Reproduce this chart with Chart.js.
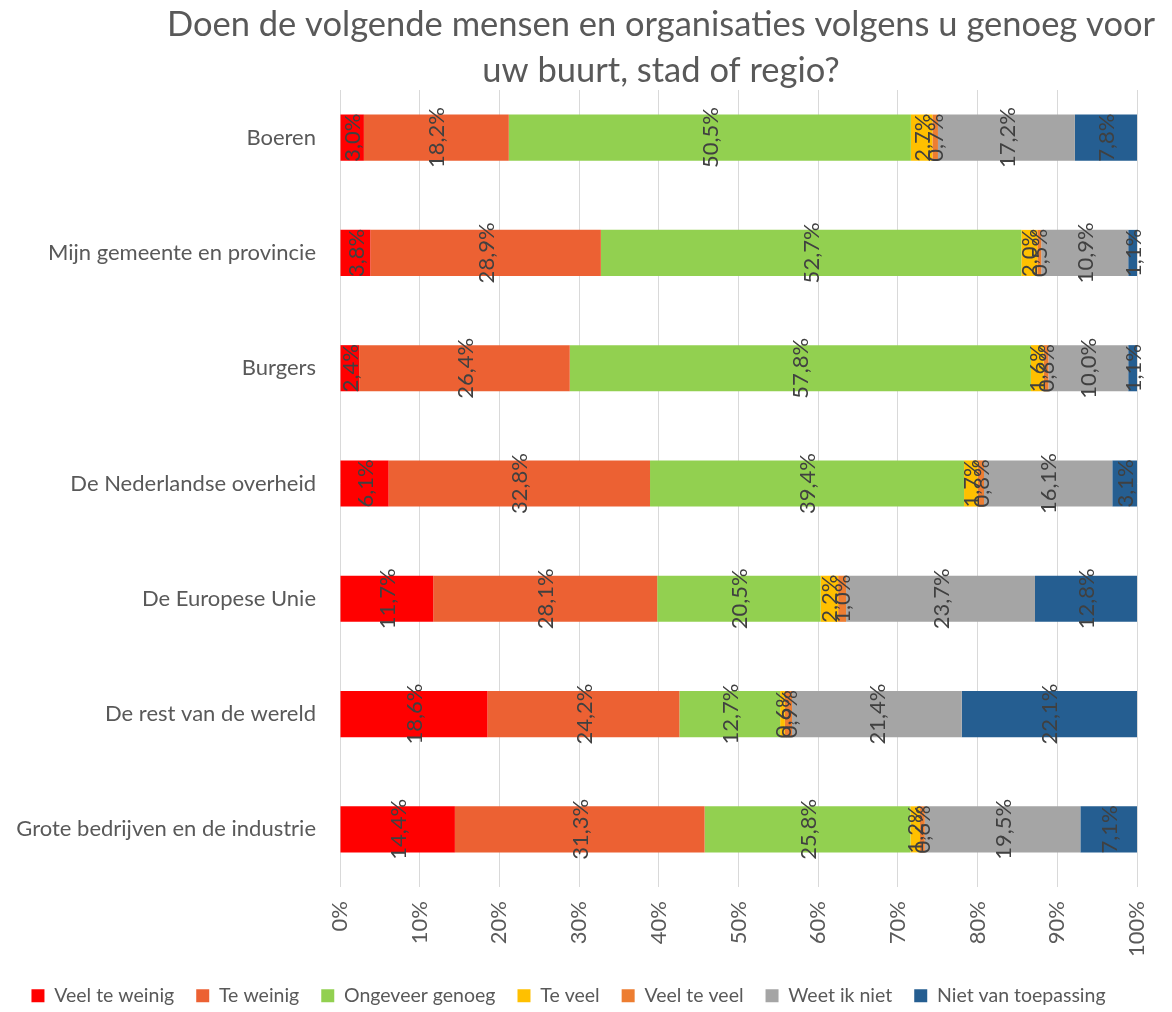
<!DOCTYPE html>
<html>
<head>
<meta charset="utf-8">
<script src="https://cdn.jsdelivr.net/npm/chart.js@4.4.1/dist/chart.umd.min.js"></script>
<style>
html,body{margin:0;padding:0;background:#fff;}
#wrap{width:1172px;height:1012px;position:relative;}
</style>
</head>
<body>
<div id="wrap"><canvas id="c" width="1172" height="1012"></canvas></div>
<script>
const titleLines = ["Doen de volgende mensen en organisaties volgens u genoeg voor", "uw buurt, stad of regio?"];
const categories = ["Boeren", "Mijn gemeente en provincie", "Burgers", "De Nederlandse overheid", "De Europese Unie", "De rest van de wereld", "Grote bedrijven en de industrie"];
const seriesNames = ["Veel te weinig", "Te weinig", "Ongeveer genoeg", "Te veel", "Veel te veel", "Weet ik niet", "Niet van toepassing"];
const veelTeWeinig      = [3.0, 3.8, 2.4, 6.1, 11.7, 18.6, 14.4];
const teWeinig          = [18.2, 28.9, 26.4, 32.8, 28.1, 24.2, 31.3];
const ongeveerGenoeg    = [50.5, 52.7, 57.8, 39.4, 20.5, 12.7, 25.8];
const teVeel            = [2.7, 2.0, 1.6, 1.7, 2.2, 0.6, 1.2];
const veelTeVeel        = [0.7, 0.5, 0.6, 0.8, 1.0, 0.9, 0.6];
const weetIkNiet        = [17.2, 10.9, 10.0, 16.1, 23.7, 21.4, 19.5];
const nietVanToepassing = [7.8, 1.1, 1.1, 3.1, 12.8, 22.1, 7.1];
const xTickLabels = ["0%","10%","20%","30%","40%","50%","60%","70%","80%","90%","100%"];

const seriesValues = [veelTeWeinig, teWeinig, ongeveerGenoeg, teVeel, veelTeVeel, weetIkNiet, nietVanToepassing];
const colors = ["#FF0000", "#EC6133", "#92D050", "#FFC000", "#ED7D31", "#A5A5A5", "#255E91"];
const FONT = "Lato, 'Open Sans', 'Liberation Sans', sans-serif";

// 100% stacked: each row scaled to its own total
const rowTotals = categories.map((_, i) => seriesValues.reduce((s, arr) => s + arr[i], 0));

const datasets = seriesNames.map((name, k) => ({
  label: name,
  data: seriesValues[k].map((v, i) => v / rowTotals[i] * 100),
  raw: seriesValues[k],
  backgroundColor: colors[k],
  borderWidth: 0,
  barPercentage: 0.4,
  categoryPercentage: 1.0
}));

const labelPlugin = {
  id: 'rotLabels',
  afterDatasetsDraw(chart) {
    const ctx = chart.ctx;
    ctx.save();
    ctx.font = "22px " + FONT;
    ctx.fillStyle = "#404040";
    ctx.textAlign = "center";
    ctx.textBaseline = "middle";
    chart.data.datasets.forEach((ds, di) => {
      const meta = chart.getDatasetMeta(di);
      meta.data.forEach((bar, i) => {
        const cx = (bar.x + bar.base) / 2;
        const cy = bar.y;
        const txt = ds.raw[i].toFixed(1).replace('.', ',') + '%';
        ctx.save();
        ctx.translate(cx, cy);
        ctx.rotate(-Math.PI / 2);
        ctx.fillText(txt, 0, 1);
        ctx.restore();
      });
    });
    ctx.restore();
  }
};

const titlePlugin = {
  id: 'customTitle',
  afterDraw(chart) {
    const ctx = chart.ctx;
    ctx.save();
    ctx.fillStyle = "#ffffff";
    ctx.fillRect(160, 0, 1000, 90);
    ctx.font = "34.5px " + FONT;
    ctx.fillStyle = "#595959";
    ctx.textAlign = "center";
    ctx.textBaseline = "alphabetic";
    ctx.fillText(titleLines[0], 661, 36);
    ctx.fillText(titleLines[1], 661, 82);
    ctx.restore();
  }
};

new Chart(document.getElementById('c'), {
  type: 'bar',
  data: { labels: categories, datasets },
  options: {
    indexAxis: 'y',
    responsive: false,
    animation: false,
    layout: { padding: { top: 80, left: 0, right: 35, bottom: 0 } },
    plugins: {
      tooltip: { enabled: false },
      title: { display: false },
      legend: {
        position: 'bottom',
        maxHeight: 48,
        labels: {
          boxWidth: 13, boxHeight: 13,
          color: '#595959',
          font: { size: 19.5, family: FONT },
          padding: 22
        }
      }
    },
    scales: {
      x: {
        stacked: true, min: 0, max: 100,
        ticks: {
          stepSize: 10,
          color: '#595959',
          font: { size: 22, family: FONT },
          minRotation: 90, maxRotation: 90,
          padding: 14,
          callback: (v, i) => xTickLabels[i]
        },
        grid: { color: '#D9D9D9', lineWidth: 1, drawTicks: false },
        border: { display: false },
        afterFit(scale) { scale.height = 77; scale.paddingLeft = 0; scale.paddingRight = 0; }
      },
      y: {
        stacked: true,
        ticks: { color: '#595959', font: { size: 22, family: FONT }, padding: 16 },
        grid: { display: false },
        border: { display: false },
        afterFit(scale) { scale.width = 340; }
      }
    }
  },
  plugins: [labelPlugin, titlePlugin]
});
</script>
</body>
</html>
